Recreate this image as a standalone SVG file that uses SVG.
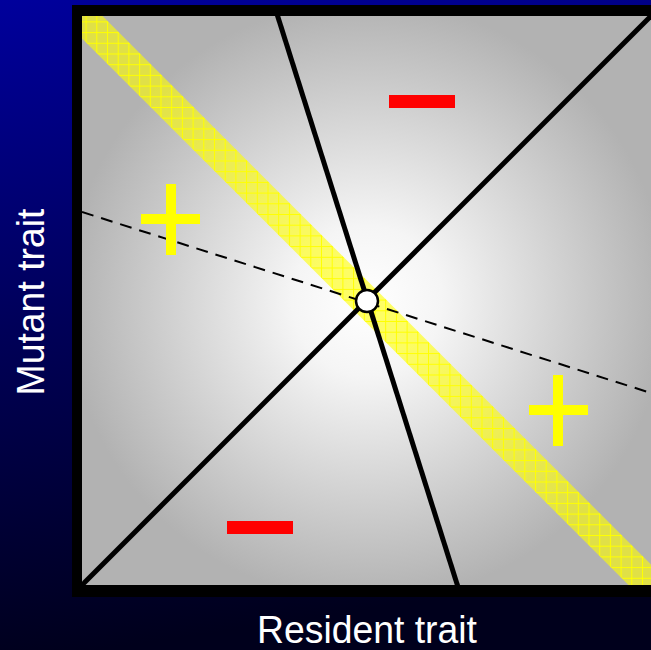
<svg xmlns="http://www.w3.org/2000/svg" width="651" height="650" viewBox="0 0 651 650">
<defs>
<linearGradient id="bg" x1="0" y1="0" x2="0.15" y2="1">
<stop offset="0" stop-color="#00009c"/>
<stop offset="0.5" stop-color="#000058"/>
<stop offset="1" stop-color="#00001c"/>
</linearGradient>
<radialGradient id="plot" cx="367" cy="301" r="300" gradientUnits="userSpaceOnUse">
<stop offset="0" stop-color="#ffffff"/>
<stop offset="0.25" stop-color="#f5f5f5"/>
<stop offset="1" stop-color="#b2b2b2"/>
</radialGradient>
<pattern id="hatch" x="0" y="0" width="10.7" height="10.7" patternUnits="userSpaceOnUse">
<rect width="10.7" height="10.7" fill="#ffff00" fill-opacity="0.6"/>
<path d="M0.5 0V10.7M0 0.5H10.7" stroke="#ffff00" stroke-width="1"/>
</pattern>
<clipPath id="inner"><rect x="82" y="16" width="569" height="569"/></clipPath>
</defs>
<style>
.ax{fill:#ffffff;font-family:"Liberation Sans",Arial,sans-serif;font-size:38px}
.ln{stroke:#000;stroke-width:5;fill:none}
.minus{fill:#ff0000}
.plus{fill:#ffff00}
</style>
<rect width="651" height="650" fill="url(#bg)"/>
<g id="plot-area">
<rect x="72" y="5" width="590" height="592" fill="#000"/>
<rect x="82" y="16" width="569" height="569" fill="url(#plot)"/>
</g>
<g id="band" clip-path="url(#inner)">
<polygon points="60,-26.5 700,613.5 700,656.5 60,16.5" fill="url(#hatch)"/>
</g>
<g id="connectors" clip-path="url(#inner)">
<line class="ln" x1="82" y1="585" x2="651" y2="16"/>
<line class="ln" x1="277" y1="14" x2="458" y2="587"/>
<line x1="82" y1="212" x2="651" y2="393" stroke="#000" stroke-width="2" stroke-dasharray="12,8"/>
</g>
<g id="equilibrium">
<circle cx="367" cy="301" r="11" fill="#fff" stroke="#000" stroke-width="2.5"/>
</g>
<g id="minus-top"><rect class="minus" x="389" y="95" width="66" height="13"/></g>
<g id="minus-bottom"><rect class="minus" x="227" y="521" width="66" height="13"/></g>
<g id="plus-left">
<rect class="plus" x="141" y="214" width="59" height="10"/>
<rect class="plus" x="166" y="184" width="10" height="71"/>
</g>
<g id="plus-right">
<rect class="plus" x="529" y="405" width="59" height="10"/>
<rect class="plus" x="553" y="375" width="10" height="71"/>
</g>
<g id="labels">
<text class="ax" x="367" y="643" text-anchor="middle" textLength="220" lengthAdjust="spacingAndGlyphs">Resident trait</text>
<text class="ax" transform="translate(44,302) rotate(-90)" x="0" y="0" text-anchor="middle" textLength="187" lengthAdjust="spacingAndGlyphs">Mutant trait</text>
</g>
</svg>
